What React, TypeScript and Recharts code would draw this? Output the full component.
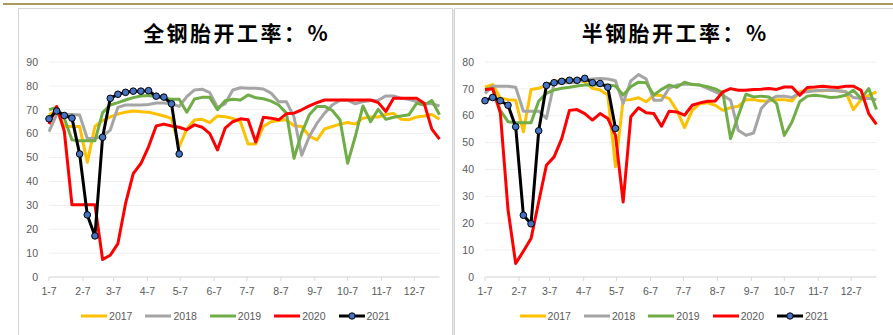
import React from 'react'
import { LineChart, Line, XAxis, YAxis, CartesianGrid } from 'recharts'

// ─── Weekly axis ─────────────────────────────────────────────────────────────
// x = days after Jan 7, one point per week
const weekDays = Array.from({ length: 52 }, (_, i) => i * 7)
const monthTicks = [0, 31, 59, 90, 120, 151, 181, 212, 243, 273, 304, 334]
const monthLabels = ['1-7', '2-7', '3-7', '4-7', '5-7', '6-7', '7-7', '8-7', '9-7', '10-7', '11-7', '12-7']

const years = ['2017', '2018', '2019', '2020', '2021']
const yearColors = ['#FFC000', '#A5A5A5', '#70AD47', '#FF0000', '#000000']

// ─── 全钢胎开工率 ────────────────────────────────────────────────────────────
const steel2017 = [68, 69.5, 63, 63, 63, 48, 63, 65.5, 67, 68.2, 69, 69.5, 69.2, 69, 68.2, 67.4, 66.4, 54.6, 62, 65.7, 66, 64.6, 67.4, 67.1, 66.4, 65, 55.7, 55.7, 63, 65, 65.5, 65.8, 63.3, 63, 59, 57.4, 62, 63, 64, 64.7, 64, 66.5, 67, 67, 68, 68.5, 66, 65.8, 67, 67.4, 68, 66]
const steel2018 = [60.9, 68, 68, 68, 67.8, 58, 58, 59, 61.5, 71, 72, 72, 72, 72.2, 72.8, 72.8, 72.5, 71.4, 75.5, 78.3, 78.6, 77.2, 71, 72.5, 78.3, 79.2, 79, 79, 78.7, 77, 73.4, 73.4, 67, 51, 58.8, 64.4, 68.6, 72, 74, 74, 72.5, 73.4, 73.9, 74, 75.8, 75.8, 74.8, 74.4, 73.4, 72.5, 72.5, 71.6]
const steel2019 = [70, 71, 66.5, 57.4, 57, 57, 57, 68.8, 72, 73, 74.1, 75.1, 75.8, 76, 75.5, 74.8, 74.4, 74.4, 69, 74.5, 75.2, 75.2, 70, 73.8, 74.4, 74.1, 76.2, 75, 74.6, 73.6, 72, 68.6, 49.7, 60.2, 67.9, 71.4, 71.4, 69.7, 65.8, 47.6, 58.8, 71.6, 65, 70.2, 66, 66.9, 67.4, 67.9, 72.7, 72, 73.9, 67.9]
const steel2020 = [64, 71.4, 61, 30.2, 30.2, 30.2, 30.2, 7.3, 9.1, 14, 30.8, 43.3, 47.5, 54.5, 63.2, 64, 63.2, 62.7, 61.6, 63.7, 62.7, 60, 53.2, 62.3, 65, 66.2, 65.8, 56.5, 66.9, 66.5, 65.8, 68.3, 68.6, 70, 71.6, 73, 74.1, 74.1, 74.1, 74.1, 74.1, 74.1, 74.1, 73, 69.3, 74.8, 74.8, 74.8, 74.8, 72.7, 61.9, 57.7]
const steel2021 = [66.2, 69.5, 67.6, 66.5, 51.5, 26, 17.2, 58.5, 74.8, 76.5, 77.3, 77.8, 77.8, 78, 75.7, 75.3, 72.5, 51.5]
const steelTicks = [0, 10, 20, 30, 40, 50, 60, 70, 80, 90]

// ─── 半钢胎开工率 ────────────────────────────────────────────────────────────
const radial2017 = [70.6, 71.6, 66.5, 66, 65.8, 54, 69.8, 70.2, 71.4, 72.7, 73.3, 73.3, 73.5, 72.5, 70.2, 69.6, 67.7, 41, 65.8, 66, 66.7, 65.2, 67.7, 67.5, 66.4, 62, 55.6, 62, 64.5, 64.8, 63.9, 62, 63, 63.5, 66, 66, 65.5, 65.5, 66, 66, 65.5, 68.9, 69.5, 69.3, 69.3, 69.5, 69.3, 68.9, 62.3, 66, 67.6, 68.9]
const radial2018 = [68.3, 71, 71, 71, 70.6, 61.7, 61.7, 61.7, 59, 72, 72.3, 72.3, 72.5, 73.3, 73.7, 73.9, 73.7, 73, 64.6, 73, 75.3, 73.7, 65.8, 65.8, 70.3, 71.4, 71.7, 71.7, 71.4, 70.2, 68.9, 67.6, 65.8, 54.6, 52.7, 53.6, 62.7, 65.8, 67.3, 67.3, 66.8, 68.5, 68.9, 69.3, 69.5, 69.5, 69.3, 68.9, 66.8, 66.4, 66.4, 66]
const radial2019 = [69.8, 70.2, 62, 57.8, 57.4, 57.4, 57.4, 65.5, 68.3, 69.6, 70.2, 70.6, 71.1, 71.4, 71.4, 71.4, 71.4, 71.1, 67.7, 70.8, 72.5, 72.3, 67.7, 69.8, 71.4, 70.6, 72.5, 71.6, 71.4, 70.8, 70, 68.5, 51.5, 60, 68, 67, 67.3, 67, 64.5, 52.7, 57.7, 65.2, 67.3, 67.6, 67.3, 66.8, 67, 67.6, 69.5, 66.4, 70.1, 62.3]
const radial2020 = [69.8, 70, 61, 25, 5, 9.6, 14.3, 28, 41.6, 44.7, 51.5, 62, 62.3, 60.8, 58.4, 60.8, 59, 52.8, 27.9, 59.6, 63, 61.1, 60.8, 56.1, 61.7, 61.4, 60.2, 63.9, 64.8, 65.4, 65.5, 68.9, 70.1, 69.5, 69.5, 69.8, 69.9, 70.1, 69.8, 70.7, 70.7, 67.6, 70.5, 70.7, 71, 70.7, 70.5, 71, 71, 69.5, 60.8, 56.8]
const radial2021 = [65.6, 66.8, 65.6, 63.9, 55.9, 23, 19.8, 54.4, 71.3, 72.3, 72.8, 73.2, 73.2, 73.9, 72.3, 72, 70.6, 55.3]
const radialTicks = [0, 10, 20, 30, 40, 50, 60, 70, 80]

function buildRows(series: number[][]) {
  return weekDays.map((d, i) => {
    const row: Record<string, number | undefined> = { d }
    years.forEach((y, k) => { row[y] = series[k][i] })
    return row
  })
}

const steelRows = buildRows([steel2017, steel2018, steel2019, steel2020, steel2021])
const radialRows = buildRows([radial2017, radial2018, radial2019, radial2020, radial2021])

const FONT = '"Liberation Sans", Arial, sans-serif'
const AXIS_TEXT = '#595959'

function LegendSwatch({ color, marker }: { color: string; marker: boolean }) {
  return (
    <svg width={26} height={8} style={{ display: 'block', marginRight: 2 }}>
      <line x1={0} y1={4} x2={26} y2={4} stroke={color} strokeWidth={3} />
      {marker && <circle cx={13} cy={4} r={3.2} fill="#4472C4" stroke="#000" strokeWidth={1} />}
    </svg>
  )
}

interface PanelProps {
  left: number
  width: number
  title: string
  rows: Record<string, number | undefined>[]
  yTicks: number[]
  marginRight: number
}

function Panel({ left, width, title, rows, yTicks, marginRight }: PanelProps) {
  return (
    <div style={{
      position: 'absolute', left, top: 8, width, height: 340,
      border: '1px solid #D4D4D4', boxShadow: '1px 1px 2px rgba(0,0,0,0.12)', background: '#fff',
    }}>
      <div style={{
        position: 'absolute', top: 11, left: 0, right: 0, textAlign: 'center',
        fontFamily: '"Noto Sans CJK SC", sans-serif', fontWeight: 700, fontSize: 21,
        lineHeight: '24px', letterSpacing: 2.5, paddingLeft: 2.5, color: '#000',
      }}>
        {title}
      </div>
      <div style={{ position: 'absolute', left: 0, top: 0 }}>
        <LineChart width={width} height={326} data={rows} margin={{ top: 53, right: marginRight, bottom: 28, left: 0 }}>
          <CartesianGrid vertical={false} stroke="#EFEFEF" strokeWidth={1} />
          <XAxis
            type="number"
            dataKey="d"
            domain={[0, 357]}
            ticks={monthTicks}
            interval={0}
            tickFormatter={(v: number) => monthLabels[monthTicks.indexOf(v)]}
            height={30}
            tickSize={4}
            tickMargin={7}
            axisLine={{ stroke: '#D9D9D9' }}
            tickLine={{ stroke: '#D9D9D9' }}
            tick={{ fontSize: 10.5, fill: AXIS_TEXT }}
          />
          <YAxis
            domain={[0, yTicks[yTicks.length - 1]]}
            ticks={yTicks}
            interval={0}
            width={30}
            axisLine={false}
            tickLine={false}
            tickMargin={5}
            tick={{ fontSize: 10.5, fill: AXIS_TEXT }}
          />
          {years.map((y, k) => (
            <Line
              key={y}
              type="linear"
              dataKey={y}
              stroke={yearColors[k]}
              strokeWidth={3}
              strokeLinejoin="round"
              dot={y === '2021' ? { r: 3.3, fill: '#4472C4', stroke: '#000', strokeWidth: 1 } : false}
              isAnimationActive={false}
            />
          ))}
        </LineChart>
      </div>
      <div style={{
        position: 'absolute', top: 300, left: 0, right: 0, display: 'flex', justifyContent: 'center',
        alignItems: 'center', gap: 13, fontSize: 10.5, color: AXIS_TEXT, lineHeight: '14px',
      }}>
        {years.map((y, k) => (
          <div key={y} style={{ display: 'flex', alignItems: 'center' }}>
            <LegendSwatch color={yearColors[k]} marker={y === '2021'} />
            <span>{y}</span>
          </div>
        ))}
      </div>
    </div>
  )
}

export default function App() {
  return (
    <div style={{
      position: 'absolute', left: 0, top: 0, width: 893, height: 335, overflow: 'hidden',
      background: '#fff', fontFamily: FONT,
    }}>
      <div style={{ position: 'absolute', left: 3, right: 0, top: 3, height: 2, background: '#AE9860' }} />
      <Panel left={18} width={433} title="全钢胎开工率：%" rows={steelRows} yTicks={steelTicks} marginRight={12.5} />
      <Panel left={454} width={438} title="半钢胎开工率：%" rows={radialRows} yTicks={radialTicks} marginRight={16.6} />
    </div>
  )
}
